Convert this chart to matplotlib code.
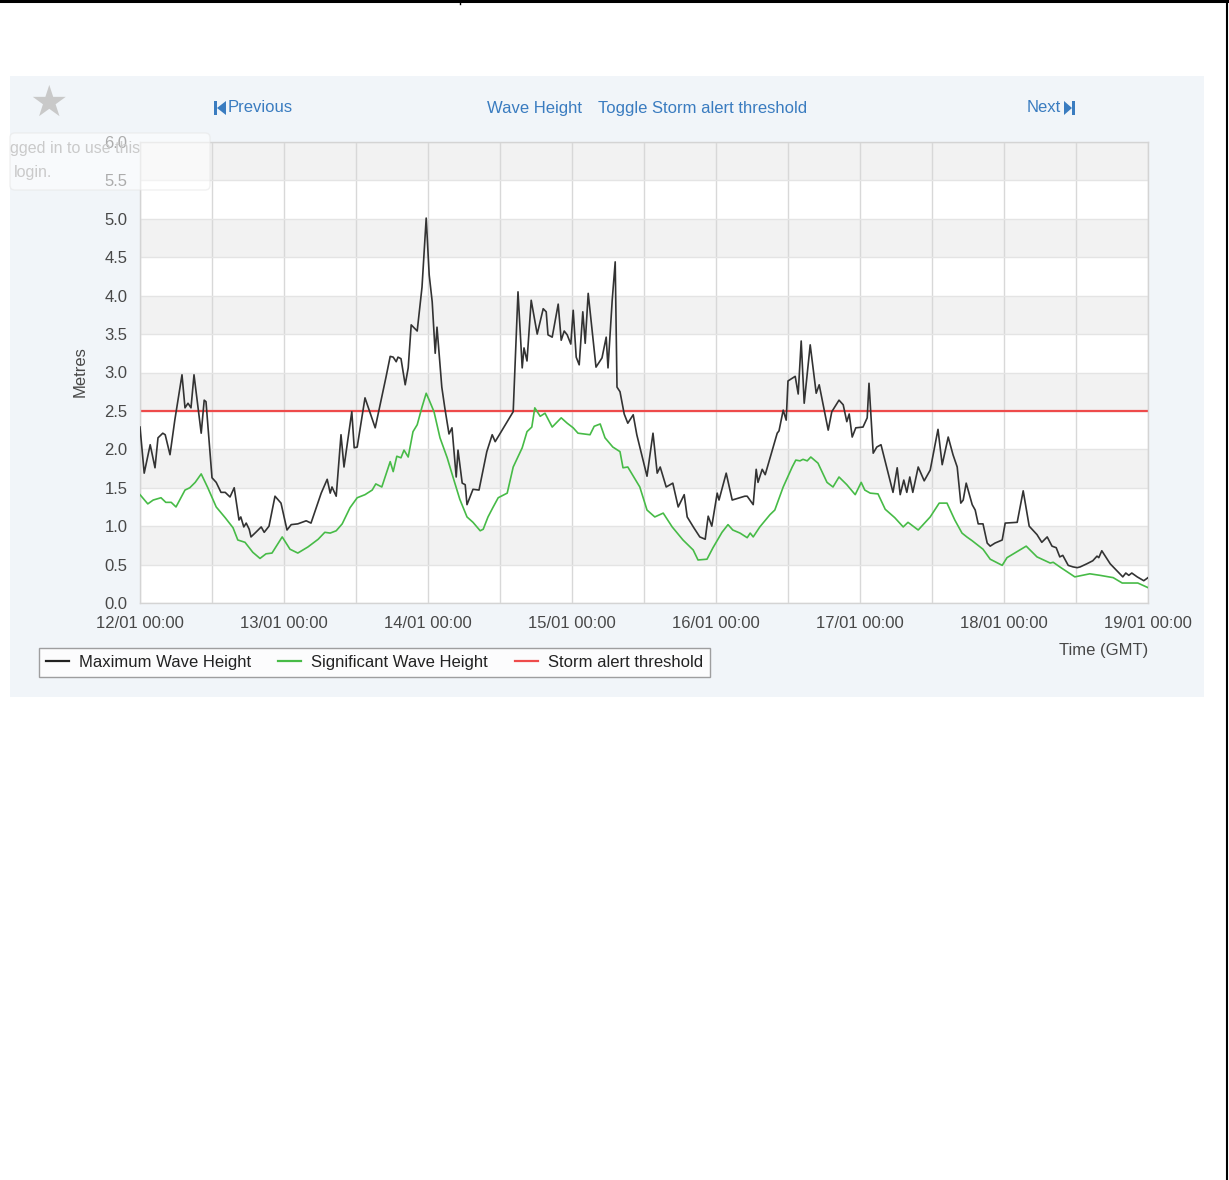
import matplotlib
matplotlib.use('Agg')
import matplotlib.pyplot as plt
from matplotlib.patches import Rectangle, FancyBboxPatch, Polygon
from matplotlib.lines import Line2D

W, H = 1229, 1180

# hours after 12/01 00:00 (GMT) and heights in metres
max_hours = [0, 0.7, 1.7, 2.5, 3, 3.8, 4.2, 5, 5.8, 7, 7.5, 8, 8.5, 9, 10.2, 10.7, 11,
             12, 12.7, 13.5, 14.2, 15, 15.7, 16.5, 16.8, 17.3, 17.7, 18.2, 18.5, 19.3,
             20.2, 20.7, 21.5, 22.5, 23.5, 24.5, 25.2, 26.3, 27.7, 28.5, 30.2, 31.2,
             31.7, 32, 32.7, 33.5, 34, 35.3, 35.7, 36.2, 37.5, 39.2, 41, 41.7, 42.2,
             42.7, 43, 43.5, 44.2, 44.7, 45.2, 46.2, 47, 47.7, 48.2, 48.7, 49.2, 49.5,
             50.3, 50.8, 51.5, 52, 52.7, 53, 53.7, 54.2, 54.5, 55.5, 56.5, 57.8, 58.7,
             59.2, 62.2, 63, 63.7, 64, 64.5, 65.2, 66.2, 67.2, 67.7, 68, 68.7, 69.7,
             70.2, 70.7, 71.2, 71.8, 72.2, 72.7, 73.2, 73.8, 74.2, 74.7, 76, 77, 77.7,
             78, 78.7, 79.2, 79.5, 80, 80.7, 81.3, 82.2, 82.8, 84.5, 85.5, 86.2, 86.7,
             87.7, 88.8, 89.7, 90.7, 91.2, 92.3, 93.3, 94.2, 94.7, 95.3, 96.2, 96.5,
             97.7, 98.7, 100.8, 101.2, 102.2, 102.7, 103, 103.7, 104.2, 105.5, 106.2,
             106.5, 107.2, 107.7, 108, 109.2, 109.7, 110.2, 110.7, 111.7, 112.7, 113.2,
             114.7, 115.3, 116.5, 117.2, 117.8, 118.2, 118.7, 119.3, 120.5, 121.2,
             121.5, 122.2, 122.8, 123.5, 125.5, 126.2, 126.7, 127.3, 127.8, 128.3,
             128.8, 129.7, 130.7, 131.7, 133, 133.7, 134.7, 135.5, 136.2, 136.8, 137.2,
             137.7, 138.7, 139.2, 139.7, 140.5, 141.2, 141.7, 142.5, 143.7, 144.2,
             146.2, 147.2, 148.2, 149.5, 150.3, 151.2, 152, 152.7, 153.3, 153.8, 154.7,
             155.5, 156.2, 156.7, 157.8, 158.8, 159.5, 159.8, 160.3, 161.7, 162.8,
             163.8, 164.3, 164.8, 165.3, 166.2, 167.3, 168]
max_height = [2.29, 1.69, 2.06, 1.76, 2.15, 2.21, 2.19, 1.93, 2.38, 2.97, 2.54, 2.60,
              2.54, 2.97, 2.21, 2.64, 2.62, 1.63, 1.57, 1.44, 1.44, 1.38, 1.50, 1.08,
              1.12, 0.99, 1.04, 0.96, 0.86, 0.92, 0.99, 0.92, 1.00, 1.39, 1.30, 0.95,
              1.02, 1.03, 1.07, 1.04, 1.43, 1.61, 1.43, 1.51, 1.39, 2.19, 1.77, 2.49,
              2.02, 2.03, 2.67, 2.28, 2.94, 3.21, 3.20, 3.14, 3.20, 3.18, 2.84, 3.06,
              3.62, 3.54, 4.11, 5.01, 4.27, 3.92, 3.25, 3.59, 2.81, 2.54, 2.20, 2.28,
              1.64, 1.99, 1.56, 1.54, 1.28, 1.48, 1.47, 1.97, 2.19, 2.10, 2.49, 4.05,
              3.06, 3.32, 3.15, 3.94, 3.50, 3.83, 3.79, 3.49, 3.46, 3.89, 3.42, 3.54,
              3.49, 3.37, 3.81, 3.20, 3.10, 3.79, 3.38, 4.03, 3.07, 3.19, 3.46, 3.06,
              3.94, 4.44, 2.81, 2.75, 2.46, 2.34, 2.45, 2.19, 1.65, 2.21, 1.69, 1.77,
              1.51, 1.56, 1.25, 1.41, 1.12, 0.98, 0.86, 0.83, 1.13, 1.00, 1.43, 1.34,
              1.69, 1.34, 1.39, 1.39, 1.28, 1.74, 1.57, 1.74, 1.67, 2.02, 2.21, 2.24,
              2.51, 2.38, 2.89, 2.95, 2.72, 3.41, 2.60, 3.36, 2.73, 2.84, 2.25, 2.49,
              2.64, 2.58, 2.36, 2.46, 2.16, 2.28, 2.29, 2.41, 2.86, 1.95, 2.03, 2.06,
              1.44, 1.76, 1.41, 1.60, 1.44, 1.64, 1.44, 1.77, 1.59, 1.73, 2.26, 1.80,
              2.16, 1.93, 1.77, 1.30, 1.34, 1.56, 1.28, 1.21, 1.03, 1.03, 0.78, 0.74,
              0.78, 0.82, 1.04, 1.05, 1.46, 1.00, 0.89, 0.79, 0.86, 0.74, 0.72, 0.60,
              0.62, 0.49, 0.47, 0.46, 0.47, 0.51, 0.55, 0.61, 0.59, 0.68, 0.51, 0.42,
              0.34, 0.39, 0.36, 0.39, 0.34, 0.29, 0.33]

sig_hours = [0, 1.3, 2.2, 3.5, 4.3, 5.2, 6, 7.5, 8.3, 9.2, 10.2, 11.3, 12.7, 14.2, 15.5,
             16.3, 17.5, 18.8, 20, 21, 22, 23.7, 25, 26.3, 28, 29.7, 30.8, 31.7, 32.7,
             33.7, 35, 36.2, 37.5, 38.7, 39.3, 40.3, 41.7, 42.2, 42.8, 43.5, 44, 44.7,
             45.5, 46.2, 47, 47.7, 48.2, 49, 50, 51.2, 52.2, 53.3, 54.5, 55.5, 56.7,
             57.2, 58, 58.8, 59.7, 61.2, 62.2, 63.7, 64.5, 65.3, 65.8, 66.7, 67.5, 68.7,
             70.2, 71.2, 72.2, 73, 75, 75.7, 76.7, 77.5, 78.8, 80, 80.5, 81.3, 83.3,
             84.5, 85.8, 87.2, 88.7, 90.5, 92.2, 93, 94.5, 95.5, 97, 98, 98.8, 100,
             101.2, 101.7, 102.2, 103.3, 105, 105.8, 107.2, 108.7, 109.3, 110, 110.5,
             111.2, 111.8, 113, 114.5, 115.5, 116.5, 117.8, 119.2, 120.2, 120.8, 121.7,
             123, 124.2, 125.8, 127.2, 128, 129.7, 131.7, 133.2, 134.5, 135.8, 137,
             137.8, 138.7, 140.5, 141.7, 143.7, 144.5, 147.7, 149.5, 151.7, 152.2,
             153.3, 155.8, 158.3, 160, 162.2, 163.7, 165, 166.3, 168]
sig_height = [1.41, 1.29, 1.34, 1.37, 1.31, 1.31, 1.25, 1.47, 1.50, 1.57, 1.68, 1.50,
              1.25, 1.11, 0.98, 0.82, 0.79, 0.66, 0.58, 0.64, 0.65, 0.86, 0.70, 0.65,
              0.73, 0.83, 0.92, 0.91, 0.94, 1.03, 1.24, 1.37, 1.41, 1.47, 1.55, 1.51,
              1.84, 1.71, 1.91, 1.89, 1.99, 1.90, 2.23, 2.32, 2.55, 2.73, 2.64, 2.49,
              2.15, 1.89, 1.63, 1.35, 1.12, 1.05, 0.94, 0.96, 1.12, 1.24, 1.37, 1.43,
              1.77, 2.02, 2.23, 2.29, 2.54, 2.43, 2.47, 2.29, 2.41, 2.34, 2.28, 2.21,
              2.19, 2.30, 2.33, 2.15, 2.03, 1.97, 1.76, 1.77, 1.51, 1.21, 1.12, 1.17,
              0.99, 0.82, 0.69, 0.56, 0.57, 0.72, 0.92, 1.02, 0.95, 0.91, 0.85, 0.91,
              0.86, 0.99, 1.15, 1.21, 1.51, 1.77, 1.86, 1.85, 1.87, 1.85, 1.90, 1.82,
              1.57, 1.51, 1.64, 1.54, 1.41, 1.57, 1.47, 1.43, 1.42, 1.22, 1.11, 0.99,
              1.05, 0.95, 1.12, 1.30, 1.30, 1.08, 0.91, 0.86, 0.81, 0.70, 0.57, 0.49,
              0.59, 0.74, 0.60, 0.52, 0.53, 0.47, 0.34, 0.38, 0.36, 0.33, 0.26, 0.26,
              0.26, 0.20]

storm_threshold = 2.5
day_labels = ['12/01 00:00', '13/01 00:00', '14/01 00:00', '15/01 00:00',
              '16/01 00:00', '17/01 00:00', '18/01 00:00', '19/01 00:00']


def fx(px):
    return px / W


def fy(py):
    return 1 - py / H


plt.rcParams['font.family'] = ['Liberation Sans', 'DejaVu Sans']

fig = plt.figure(figsize=(W / 100, H / 100), dpi=100)
fig.patch.set_facecolor('white')

# page frame lines
fig.add_artist(Line2D([0, 1], [fy(1), fy(1)], color='black', lw=2.2))
fig.add_artist(Line2D([fx(460), fx(460)], [fy(0), fy(4)], color='black', lw=1))
fig.add_artist(Line2D([fx(1227), fx(1227)], [0, 1], color='black', lw=1.5))

# light panel behind the chart
fig.add_artist(Rectangle((fx(10), fy(697)), fx(1204) - fx(10), fy(76) - fy(697),
                         transform=fig.transFigure, facecolor='#f1f5f9',
                         edgecolor='none', zorder=0))

ax = fig.add_axes([fx(140), fy(603), fx(1148) - fx(140), fy(142) - fy(603)])
ax.set_facecolor('white')
ax.set_xlim(0, 168)
ax.set_ylim(0, 6)

# alternating grey bands
for i in range(12):
    if i % 2 == 1:
        ax.axhspan(i * 0.5, (i + 1) * 0.5, color='#f2f2f2', lw=0, zorder=0)

ax.set_xticks(range(0, 169, 24))
ax.set_xticks(range(12, 169, 24), minor=True)
ax.set_xticklabels(day_labels)
ax.set_yticks([i * 0.5 for i in range(13)])
ax.set_yticklabels(['%.1f' % (i * 0.5) for i in range(13)])
ax.grid(which='both', axis='x', color='#d8d8d8', lw=1, zorder=1)
ax.grid(which='major', axis='y', color='#e4e4e4', lw=1, zorder=1)
ax.set_axisbelow(True)
ax.tick_params(which='both', length=0, labelsize=12, colors='#484848')
ax.tick_params(axis='y', pad=9)
ax.tick_params(axis='x', pad=9)
for s in ax.spines.values():
    s.set_color('#d4d4d4')
    s.set_linewidth(1)

ax.plot(max_hours, max_height, color='#333333', lw=1.2, zorder=3)
ax.plot(sig_hours, sig_height, color='#47bb47', lw=1.2, zorder=3)
ax.axhline(storm_threshold, color='#ee4b4b', lw=1.6, zorder=2)

fig.text(fx(80), fy(372), 'Metres', rotation=90, ha='center', va='center',
         fontsize=12, color='#484848')
fig.text(fx(1104), fy(650), 'Time (GMT)', ha='center', va='center',
         fontsize=12, color='#484848')

handles = [Line2D([], [], color='#222222', lw=1.6),
           Line2D([], [], color='#47bb47', lw=1.6),
           Line2D([], [], color='#ee4b4b', lw=1.6)]
leg = ax.legend(handles, ['Maximum Wave Height', 'Significant Wave Height',
                          'Storm alert threshold'],
                loc='upper left', bbox_to_anchor=(fx(39), fy(648)),
                bbox_transform=fig.transFigure, ncol=3, fontsize=12,
                frameon=True, fancybox=False, borderaxespad=0, borderpad=0.42,
                handlelength=1.4, handletextpad=0.6, columnspacing=1.6)
leg.get_frame().set_edgecolor('#888888')
leg.get_frame().set_linewidth(1)
for t in leg.get_texts():
    t.set_color('#222222')

# navigation row
blue = '#3a7cc0'
fig.text(fx(228), fy(108), 'Previous', ha='left', va='center', fontsize=12, color=blue)
fig.add_artist(Rectangle((fx(214), fy(115)), fx(3), fy(101) - fy(115),
                         transform=fig.transFigure, facecolor=blue, edgecolor='none'))
fig.add_artist(Polygon([(fx(217), fy(108)), (fx(226), fy(101)), (fx(226), fy(115))],
                       closed=True, transform=fig.transFigure, facecolor=blue,
                       edgecolor='none'))
fig.text(fx(487), fy(108), 'Wave Height', ha='left', va='center', fontsize=12, color=blue)
fig.text(fx(598), fy(108), 'Toggle Storm alert threshold', ha='left', va='center',
         fontsize=12, color=blue)
fig.text(fx(1061), fy(108), 'Next', ha='right', va='center', fontsize=12, color=blue)
fig.add_artist(Polygon([(fx(1064), fy(101)), (fx(1064), fy(115)), (fx(1072), fy(108))],
                       closed=True, transform=fig.transFigure, facecolor=blue,
                       edgecolor='none'))
fig.add_artist(Rectangle((fx(1072), fy(115)), fx(3), fy(101) - fy(115),
                         transform=fig.transFigure, facecolor=blue, edgecolor='none'))

# favourite star and its hint box
fig.text(fx(48), fy(104), '\u2605', ha='center', va='center', fontsize=31,
         color='#c9c9c9', family='DejaVu Sans')
fig.add_artist(FancyBboxPatch((fx(10), fy(190)), fx(200), fy(133) - fy(190),
                              boxstyle='round,pad=0,rounding_size=0.004',
                              transform=fig.transFigure, facecolor='white',
                              edgecolor='#e6e6e6', alpha=0.55, lw=1, zorder=5))
fig.text(fx(10), fy(149), 'gged in to use this', ha='left', va='center',
         fontsize=11.5, color='#cacaca', zorder=6)
fig.text(fx(14), fy(172), 'login.', ha='left', va='center',
         fontsize=11.5, color='#cacaca', zorder=6)

fig.savefig('out.png', dpi=100)
